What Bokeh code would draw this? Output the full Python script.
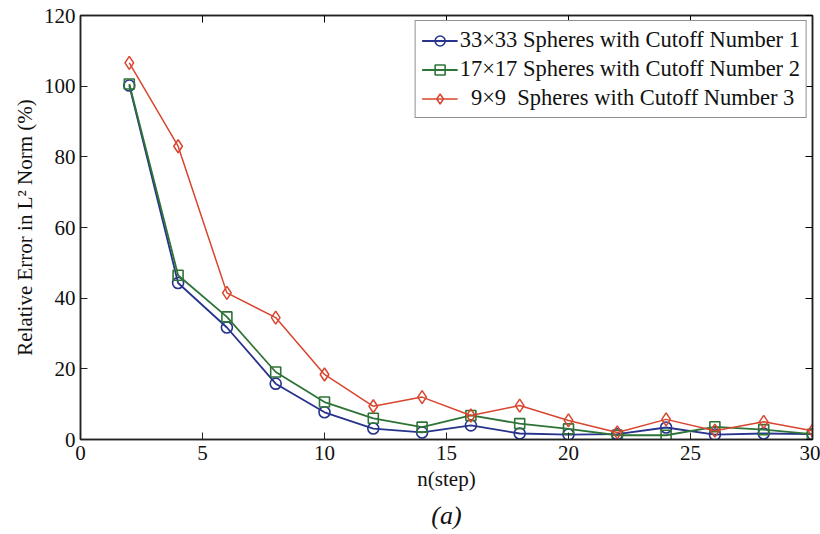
from bokeh.plotting import figure
from bokeh.models import (Range1d, LinearAxis, Legend, LegendItem, Title, FixedTicker,
                          CustomLabelingPolicy)
from bokeh.embed import file_html
from bokeh.resources import INLINE

# data
n_step = [2, 4, 6, 8, 10, 12, 14, 16, 18, 20, 22, 24, 26, 28, 30]
err_33 = [100.2, 44.3, 31.7, 15.8, 7.7, 3.1, 2.0, 4.0, 1.7, 1.4, 1.5, 3.4, 1.4, 1.7, 1.5]
err_17 = [100.6, 46.5, 34.7, 19.1, 10.6, 6.0, 3.5, 6.8, 4.5, 3.0, 1.2, 1.2, 3.6, 2.8, 1.5]
err_9 = [106.6, 83.0, 41.5, 34.5, 18.4, 9.4, 12.0, 6.8, 9.6, 5.4, 2.0, 5.7, 2.5, 5.0, 2.5]
labels = ["33×33 Spheres with Cutoff Number 1",
          "17×17 Spheres with Cutoff Number 2",
          "  9×9  Spheres with Cutoff Number 3"]
x_ticks = [0, 5, 10, 15, 20, 25, 30]
y_ticks = [0, 20, 40, 60, 80, 100, 120]

FONT = "Liberation Serif"
BLUE = "#27338c"
GREEN = "#2e7436"
RED = "#d9452e"

p = figure(width=820, height=534, output_backend="svg", toolbar_location=None,
           x_range=Range1d(0, 30), y_range=Range1d(0, 120),
           min_border_left=80, min_border_right=8, min_border_top=15, min_border_bottom=95)
p.background_fill_color = "white"
p.border_fill_color = "white"
p.outline_line_color = "#222222"
p.outline_line_width = 1.5
p.xgrid.visible = False
p.ygrid.visible = False

for ax in (p.xaxis[0], p.yaxis[0]):
    ax.major_tick_in = 7
    ax.major_tick_out = 0
    ax.minor_tick_line_color = None
    ax.axis_line_color = "#222222"
    ax.axis_line_width = 1.5
    ax.major_tick_line_color = "#222222"
    ax.major_label_text_font = FONT
    ax.major_label_text_font_size = "21px"
    ax.major_label_text_color = "#111111"
    ax.axis_label_text_font = FONT
    ax.axis_label_text_font_size = "21px"
    ax.axis_label_text_font_style = "normal"
    ax.axis_label_text_color = "#111111"

p.xaxis[0].ticker = FixedTicker(ticks=x_ticks)
p.yaxis[0].ticker = FixedTicker(ticks=y_ticks)
p.xaxis[0].axis_label = "n(step)"
p.yaxis[0].axis_label = "Relative Error in L² Norm (%)"
p.xaxis[0].major_label_standoff = 6
p.xaxis[0].axis_label_standoff = 4
p.yaxis[0].major_label_standoff = 5
p.yaxis[0].axis_label_standoff = 4

# box ticks on top and right (no labels)
no_labels = "for (const i of indices) indices.unset(i)"
box_axes = []
for ticks in (x_ticks, y_ticks):
    box_axes.append(LinearAxis(ticker=FixedTicker(ticks=ticks),
                               major_label_policy=CustomLabelingPolicy(code=no_labels),
                               major_label_text_font_size="0px",
                               major_tick_in=7, major_tick_out=0, minor_tick_line_color=None,
                               axis_line_color="#222222", axis_line_width=1.5,
                               major_label_standoff=0, axis_label_standoff=0))
p.add_layout(box_axes[0], "above")
p.add_layout(box_axes[1], "right")

l1 = p.line(n_step, err_33, line_color=BLUE, line_width=1.8)
s1 = p.scatter(n_step, err_33, marker="circle", size=11, fill_color=None, line_color=BLUE, line_width=1.6)
l2 = p.line(n_step, err_17, line_color=GREEN, line_width=1.8)
s2 = p.scatter(n_step, err_17, marker="square", size=10, fill_color=None, line_color=GREEN, line_width=1.6)
l3 = p.line(n_step, err_9, line_color=RED, line_width=1.5)
s3 = p.scatter(n_step, err_9, marker="diamond", size=13, fill_color=None, line_color=RED, line_width=1.5)

legend = Legend(items=[LegendItem(label=labels[0], renderers=[l1, s1]),
                       LegendItem(label=labels[1], renderers=[l2, s2]),
                       LegendItem(label=labels[2], renderers=[l3, s3])],
                location="top_right")
legend.margin = 5
legend.padding = 6
legend.spacing = 3
legend.glyph_width = 36
legend.glyph_height = 25
legend.label_standoff = 2
legend.label_text_font = FONT
legend.label_text_font_size = "22.5px"
legend.label_text_color = "#111111"
legend.border_line_color = "#222222"
legend.border_line_width = 1.5
legend.background_fill_alpha = 1.0
p.add_layout(legend)

cap = Title(text="(a)", align="center", text_font=FONT, text_font_size="26px",
            text_font_style="italic", text_color="#111111", standoff=10)
p.add_layout(cap, "below")

open("out.html", "w").write(file_html(p, INLINE))
